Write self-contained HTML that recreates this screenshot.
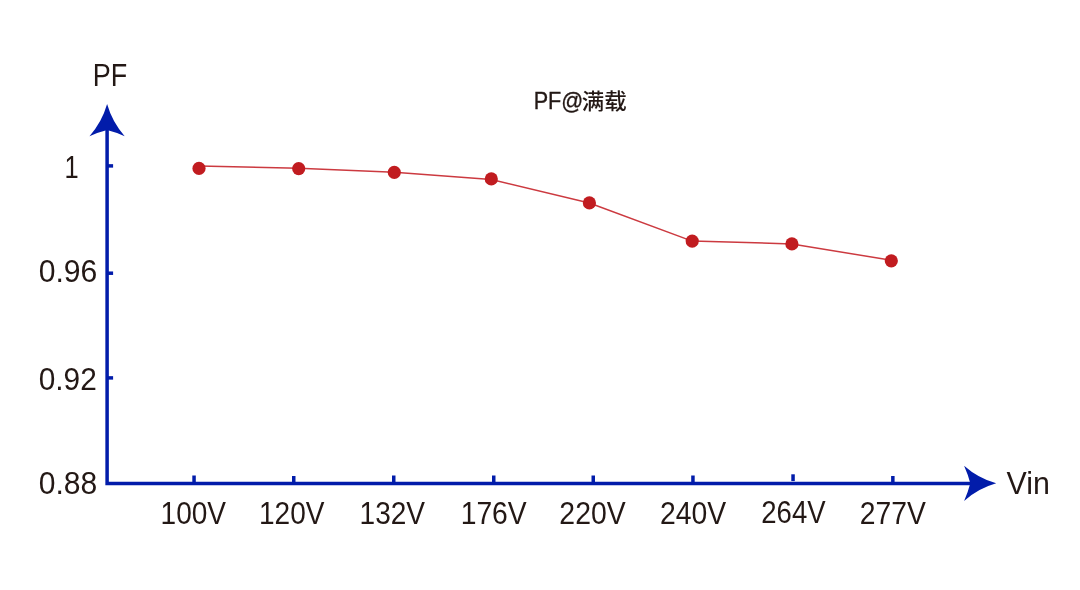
<!DOCTYPE html>
<html lang="zh-CN">
<head>
<meta charset="utf-8">
<title>PF@满载</title>
<style>
  html, body { margin: 0; padding: 0; background: #ffffff; }
  body { width: 1080px; height: 590px; overflow: hidden; }
  svg { display: block; }
  text { font-family: "Liberation Sans", "Noto Sans CJK SC", sans-serif; fill: #231815; }
  .lbl { font-size: 31.5px; }
  .title { font-size: 21px; font-weight: 500; }
  .tl { font-size: 23.2px; stroke: #231815; stroke-width: 0.35px; }
  .tc { font-size: 22px; }
</style>
</head>
<body>
<svg width="1080" height="590" viewBox="0 0 1080 590">
  <rect x="0" y="0" width="1080" height="590" fill="#ffffff"/>

  <!-- axes -->
  <path d="M107.1 130 V483.4 H976" fill="none" stroke="#021caa" stroke-width="3.5" stroke-linejoin="miter"/>
  <!-- y ticks -->
  <g stroke="#021caa" stroke-width="3.5">
    <line x1="107.1" y1="165.9" x2="113.1" y2="165.9"/>
    <line x1="107.1" y1="273.2" x2="113.1" y2="273.2"/>
    <line x1="107.1" y1="377.9" x2="113.1" y2="377.9"/>
  </g>
  <!-- x ticks -->
  <g stroke="#021caa" stroke-width="3.5">
    <line x1="194.05" y1="483.4" x2="194.05" y2="475.5"/>
    <line x1="293.75" y1="483.4" x2="293.75" y2="476"/>
    <line x1="393.75" y1="483.4" x2="393.75" y2="475.5"/>
    <line x1="493.75" y1="483.4" x2="493.75" y2="475.5"/>
    <line x1="593.25" y1="483.4" x2="593.25" y2="475.5"/>
    <line x1="692.95" y1="483.4" x2="692.95" y2="475.5"/>
    <line x1="793.05" y1="481.1" x2="793.05" y2="474.3"/>
    <line x1="892.85" y1="483.4" x2="892.85" y2="476"/>
  </g>
  <!-- arrow heads -->
  <g fill="#021caa">
    <path d="M107.1 104.1 Q101.95 122.2 89.5 136.2 Q99 132 107.1 130 Q115.2 132 124.7 136.2 Q112.25 122.2 107.1 104.1 Z"/>
    <path d="M996.2 483.3 Q978.1 478.15 964.1 465.7 Q968.3 475.2 970.3 483.3 Q968.3 491.4 964.1 500.9 Q978.1 488.45 996.2 483.3 Z"/>
  </g>

  <!-- series -->
  <polyline fill="none" stroke="#cc3a40" stroke-width="1.5" stroke-linejoin="round"
    points="199,165.9 298.7,168.3 394.3,172.2 491.3,179.5 589.4,203 692.2,241.1 791.9,243.9 891.3,260.3"/>
  <g fill="#c11c20">
    <circle cx="199" cy="168.4" r="6.6"/>
    <circle cx="298.7" cy="168.6" r="6.6"/>
    <circle cx="394.3" cy="172.3" r="6.6"/>
    <circle cx="491.3" cy="178.9" r="6.6"/>
    <circle cx="589.4" cy="202.9" r="6.6"/>
    <circle cx="692.2" cy="241.1" r="6.6"/>
    <circle cx="791.9" cy="243.9" r="6.6"/>
    <circle cx="891.3" cy="260.8" r="6.6"/>
  </g>

  <!-- title -->
  <text class="title" x="533.7" y="108.9"><tspan class="tl" textLength="49.6" lengthAdjust="spacingAndGlyphs">PF@</tspan><tspan class="tc" x="581.7" y="108.6" textLength="45" lengthAdjust="spacingAndGlyphs">满载</tspan></text>

  <!-- labels -->
  <text class="lbl" transform="translate(92.77 86.30) scale(0.8571 1.0000)">PF</text>
  <text class="lbl" transform="translate(1006.61 494.00) scale(0.9649 1.0000)">Vin</text>
  <text class="lbl" transform="translate(64.46 177.70) scale(0.8088 1.0000)">1</text>
  <text class="lbl" transform="translate(38.75 281.80) scale(0.9557 1.0000)">0.96</text>
  <text class="lbl" transform="translate(38.76 390.30) scale(0.9470 1.0000)">0.92</text>
  <text class="lbl" transform="translate(38.76 494.30) scale(0.9540 1.0000)">0.88</text>
  <text class="lbl" transform="translate(160.56 524.00) scale(0.8903 1.0000)">100V</text>
  <text class="lbl" transform="translate(258.96 524.00) scale(0.8903 1.0000)">120V</text>
  <text class="lbl" transform="translate(359.56 524.00) scale(0.8903 1.0000)">132V</text>
  <text class="lbl" transform="translate(460.64 524.00) scale(0.8987 1.0000)">176V</text>
  <text class="lbl" transform="translate(559.36 524.00) scale(0.9013 1.0000)">220V</text>
  <text class="lbl" transform="translate(659.96 524.00) scale(0.8999 1.0000)">240V</text>
  <text class="lbl" transform="translate(761.30 523.00) scale(0.8748 1.0000)">264V</text>
  <text class="lbl" transform="translate(859.76 524.30) scale(0.8985 1.0000)">277V</text>
</svg>
</body>
</html>
